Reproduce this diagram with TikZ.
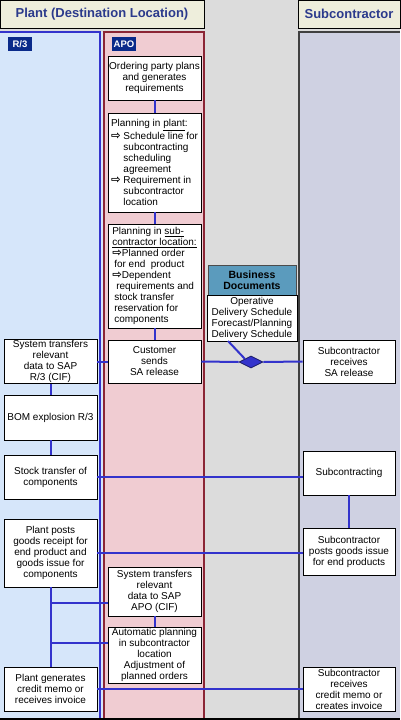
\documentclass[tikz,border=0pt]{standalone}
\usepackage{fontspec}
\setmainfont{Liberation Sans}
\newfontfamily\symf{DejaVu Sans}
\usetikzlibrary{shapes.geometric}
\definecolor{conn}{HTML}{3333CC}
\definecolor{bggray}{HTML}{DCDCDC}
\definecolor{hdrfill}{HTML}{EEEEDC}
\definecolor{hdrtext}{HTML}{2B3A8C}
\definecolor{rfill}{HTML}{D6E6FA}
\definecolor{apofill}{HTML}{F0CCD2}
\definecolor{apoline}{HTML}{8B2535}
\definecolor{subfill}{HTML}{CFD1E2}
\definecolor{subline}{HTML}{404040}
\definecolor{navy}{HTML}{0A2A8A}
\definecolor{bdfill}{HTML}{5B9BBD}
\newcommand{\arr}{{\symf\bfseries\fontsize{11.5}{11}\selectfont\char"21E8}}
\begin{document}
\begin{tikzpicture}[x=1pt,y=-1pt,
  box/.style={draw=black, line width=0.9pt, fill=white, inner sep=1pt,
    minimum width=93, align=center, font=\fontsize{10}{11}\selectfont},
  hdr/.style={draw=black, line width=0.9pt, fill=hdrfill, minimum height=28,
    text=hdrtext, font=\fontsize{13}{15}\selectfont\bfseries},
  lbl/.style={fill=navy, text=white, minimum width=24, minimum height=14,
    inner sep=0pt, font=\fontsize{9.5}{10}\selectfont\bfseries},
  con/.style={draw=conn, line width=2pt}]
\useasboundingbox (0,0) rectangle (400,720);
\fill[bggray] (0,0) rectangle (400,720);
% lanes
\fill[rfill] (0,32) rectangle (104,720);
\draw[conn, line width=2.5pt] (0,32) -- (100,32) -- (100,720);
\fill[apofill] (104,32) rectangle (204,720);
\draw[apoline, line width=2.5pt] (104,720) -- (104,32) -- (204,32) -- (204,720);
\fill[subfill] (299,32) rectangle (400,720);
\draw[subline, line width=2.5pt] (299,720) -- (299,32) -- (400,32);
\draw[black, line width=2pt] (0,719) -- (400,719);
% headers
\node[hdr, minimum width=204] (hplant) at (102,14) {Plant (Destination Location)};
\node[hdr, minimum width=102] (hsub) at (349,14) {Subcontractor};
\node[lbl] (lr3) at (20,44) {R/3};
\node[lbl] (lapo) at (124,44) {APO};
% APO boxes
\node[box, minimum height=44] (ord) at (154.5,78) {Ordering party plans\\and generates\\requirements};
\node[box, minimum height=99, align=left] (pip) at (154.5,162.5) {Planning in \underline{plant}:\\
\arr\ Schedule line for\\
\phantom{\arr\ }subcontracting\\
\phantom{\arr\ }scheduling\\
\phantom{\arr\ }agreement\\
\arr\ Requirement in\\
\phantom{\arr\ }subcontractor\\
\phantom{\arr\ }location};
\node[box, minimum height=104, align=left] (pisc) at (154.5,276) {Planning in \underline{sub-}\\
\underline{contractor location:}\\
\arr Planned order\\
\hspace*{0.2em}for end\ \ product\\
\arr Dependent\\
\hspace*{0.4em}requirements and\\
\hspace*{0.2em}stock transfer\\
\hspace*{0.2em}reservation for\\
\hspace*{0.2em}components};
\node[box, minimum height=43] (cust) at (154.5,361.5) {Customer\\sends\\SA release};
\node[box, minimum height=49] (stapo) at (154.5,591.5) {System transfers\\relevant\\data to SAP\\APO (CIF)};
\node[box, minimum height=56] (auto) at (154.5,655) {Automatic planning\\in subcontractor\\location\\Adjustment of\\planned orders};
% R/3 boxes
\node[box, minimum height=43] (str3) at (50.5,361.5) {System transfers\\relevant\\data to SAP\\R/3 (CIF)};
\node[box, minimum height=45] (bom) at (50.5,417.5) {BOM explosion R/3};
\node[box, minimum height=44] (stk) at (50.5,477) {Stock transfer of\\components};
\node[box, minimum height=68] (ppg) at (50.5,553) {Plant posts\\goods receipt for\\end product and\\goods issue for\\components};
\node[box, minimum height=44] (pgc) at (50.5,689) {Plant generates\\credit memo or\\receives invoice};
% Subcontractor boxes
\node[box, minimum width=92, minimum height=43] (subrec) at (349,361.5) {Subcontractor\\receives\\SA release};
\node[box, minimum width=92, minimum height=44] (subc) at (349,473) {Subcontracting};
\node[box, minimum width=92, minimum height=47] (spg) at (349,551.5) {Subcontractor\\posts goods issue\\for end products};
\node[box, minimum width=92, minimum height=44] (scm) at (349,689) {Subcontractor\\receives\\credit memo or\\creates invoice};
% business documents
\node[draw=black!70, line width=0.8pt, fill=bdfill, minimum width=88, minimum height=30, inner sep=0pt,
  align=center, font=\fontsize{10.5}{11.5}\selectfont\bfseries] (bdh) at (252,280) {Business\\Documents};
\node[box, minimum width=90, minimum height=46] (bdb) at (252,318) {Operative\\Delivery Schedule\\Forecast/Planning\\Delivery Schedule};
\node[diamond, draw=conn!50!black, line width=0.8pt, fill=conn, minimum width=24, minimum height=12, inner sep=0pt] (dia) at (251,362) {};
\coordinate (bdtap) at (228,341);
\coordinate (ya) at (0,603);
\coordinate (yb) at (0,643);
% connectors
\draw[con] (ord) -- (pip);
\draw[con] (pip) -- (pisc);
\draw[con] (pisc) -- (cust);
\draw[con] (str3.east) -- (cust.west);
\draw[con] (cust.east) -- (dia.west);
\draw[con] (dia.east) -- (subrec.west);
\draw[con] (bdtap) -- (dia.north west);
\draw[con] (str3) -- (bom);
\draw[con] (bom) -- (stk);
\draw[con] (stk.east) -- (stk.east -| subc.west);
\draw[con] (subc) -- (spg);
\draw[con] (ppg.east) -- (ppg.east -| spg.west);
\draw[con] (ppg) -- (pgc);
\draw[con] (ppg.south |- ya) -- (stapo.west |- ya);
\draw[con] (ppg.south |- yb) -- (auto.west |- yb);
\draw[con] (stapo) -- (auto);
\draw[con] (pgc.east) -- (scm.west);
\end{tikzpicture}
\end{document}
